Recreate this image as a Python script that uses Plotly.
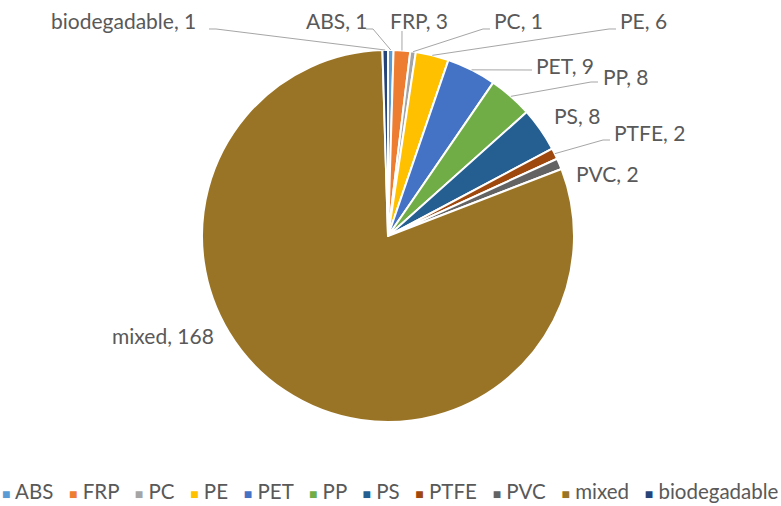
import math
import plotly.graph_objects as go

# Plastic types and counts
materials = ["ABS", "FRP", "PC", "PE", "PET", "PP", "PS", "PTFE", "PVC", "mixed", "biodegadable"]
counts = [1, 3, 1, 6, 9, 8, 8, 2, 2, 168, 1]
colors = ["#5B9BD5", "#ED7D31", "#A5A5A5", "#FFC000", "#4472C4", "#70AD47",
          "#255E91", "#9E480E", "#636363", "#9A7426", "#264478"]

W, H = 781, 506
CX, CY, R = 388, 236, 186  # pie centre and radius in pixels

# Label placement (pixels): left edge, vertical centre, leader anchor, leader elbow
label_pos = {
    "ABS": (304, 21, (366, 29), (373, 29)),
    "FRP": (388, 21, (402, 31), None),
    "PC": (492, 21, (490, 29), (483, 29)),
    "PE": (618, 21, (616, 29), (609, 29)),
    "PET": (534, 65, (532, 70), None),
    "PP": (601, 76, (598, 82), (591, 82)),
    "PS": (552, 115, None, None),
    "PTFE": (612, 132, (610, 140), (603, 140)),
    "PVC": (574, 173, None, None),
    "mixed": (110, 335, None, None),
    "biodegadable": (49, 21, (209, 29), (216, 29)),
}

FONT = "Lato, 'Liberation Sans', sans-serif"
TEXT = "#595959"
LEADER = "#A6A6A6"


def px(x):
    return x / W


def py(y):
    return 1 - y / H


fig = go.Figure(go.Pie(
    labels=materials,
    values=counts,
    sort=False,
    direction="clockwise",
    rotation=0,
    textinfo="none",
    hoverinfo="skip",
    marker=dict(colors=colors, line=dict(color="white", width=2)),
    domain=dict(x=[px(CX - R), px(CX + R)], y=[py(CY + R), py(CY - R)]),
    showlegend=False,
))

annotations = []
shapes = []
total = sum(counts)
cum = 0
for name, val in zip(materials, counts):
    mid = (cum + val / 2) / total * 2 * math.pi
    cum += val
    ex = CX + R * math.sin(mid)
    ey = CY - R * math.cos(mid)
    lx, ly, anchor, elbow = label_pos[name]
    annotations.append(dict(
        x=px(lx), y=py(ly), xref="paper", yref="paper",
        xanchor="left", yanchor="middle", showarrow=False,
        text=f"{name}, {val}", font=dict(family=FONT, size=21, color=TEXT),
    ))
    if anchor is not None:
        pts = [anchor] + ([elbow] if elbow else []) + [(ex, ey)]
        path = "M " + " L ".join(f"{px(x):.5f},{py(y):.5f}" for x, y in pts)
        shapes.append(dict(type="path", path=path, xref="paper", yref="paper",
                           line=dict(color=LEADER, width=1)))

# Legend row drawn as one line of coloured squares and names
gap = "\u00a0" * 3
items = [
    f"<span style='color:{c};font-size:14px'>\u25a0</span>\u00a0{m}"
    for m, c in zip(materials, colors)
]
annotations.append(dict(
    x=px(390), y=py(491), xref="paper", yref="paper",
    xanchor="center", yanchor="middle", showarrow=False,
    text=gap.join(items), font=dict(family=FONT, size=20.5, color=TEXT),
))

fig.update_layout(
    width=W, height=H, autosize=False,
    margin=dict(l=0, r=0, t=0, b=0),
    paper_bgcolor="white", plot_bgcolor="white",
    annotations=annotations, shapes=shapes,
)

fig.write_html("out.html")
